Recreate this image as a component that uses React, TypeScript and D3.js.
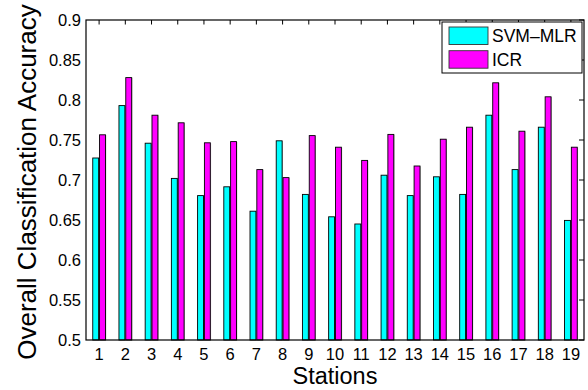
import React from "react";
import * as d3 from "d3";

const stations = [1, 2, 3, 4, 5, 6, 7, 8, 9, 10, 11, 12, 13, 14, 15, 16, 17, 18, 19];
const svmMlr = [0.7275, 0.793, 0.746, 0.702, 0.6805, 0.6915, 0.661, 0.749, 0.682, 0.654, 0.645, 0.706, 0.6805, 0.704, 0.682, 0.781, 0.713, 0.766, 0.6495];
const icr = [0.7565, 0.828, 0.781, 0.7715, 0.7465, 0.748, 0.713, 0.703, 0.7555, 0.741, 0.7245, 0.757, 0.7175, 0.751, 0.766, 0.8215, 0.761, 0.804, 0.741];
const yTicks = [0.5, 0.55, 0.6, 0.65, 0.7, 0.75, 0.8, 0.85, 0.9];
const seriesNames = ["SVM\u2013MLR", "ICR"];
const seriesColors = ["#00ffff", "#ff00ff"];

const W = 588;
const H = 390;
const M = { left: 86, right: 584, top: 20, bottom: 340 };
const FONT = "'Liberation Sans', Arial, Helvetica, sans-serif";

export default function App() {
  const x = d3.scaleLinear().domain([0.5, stations.length + 0.5]).range([M.left, M.right]);
  const y = d3.scaleLinear().domain([0.5, 0.9]).range([M.bottom, M.top]);
  const barW = 0.225;
  const offsets = [-0.13, 0.13];
  const series = [svmMlr, icr];

  return (
    <svg width={W} height={H} style={{ position: "absolute", left: 0, top: 0, background: "#fff" }} fontFamily={FONT}>
      <defs>
        <filter id="soft" x="-50%" y="-10%" width="200%" height="120%">
          <feGaussianBlur stdDeviation="0.6" />
        </filter>
      </defs>
      {/* bars */}
      {series.map((vals, si) =>
        vals.map((v, i) => {
          const cx = x(stations[i] + offsets[si]);
          const bw = x(barW) - x(0);
          const top = y(v);
          return (
            <g key={`${si}-${i}`}>
              <rect x={cx - bw / 2 + 0.8} y={top + 0.3} width={bw} height={M.bottom - top} fill="#888" opacity={0.6} filter="url(#soft)" />
              <rect x={cx - bw / 2} y={top} width={bw} height={M.bottom - top} fill={seriesColors[si]} stroke="#000" strokeWidth={0.9} />
            </g>
          );
        })
      )}
      {/* axes box */}
      <rect x={M.left} y={M.top} width={M.right - M.left} height={M.bottom - M.top} fill="none" stroke="#000" strokeWidth={1.2} />
      {/* top ticks */}
      {stations.map((s) => (
        <line key={`tt${s}`} x1={x(s)} x2={x(s)} y1={M.top} y2={M.top + 4.5} stroke="#000" strokeWidth={1} />
      ))}
      {/* right ticks */}
      {yTicks.map((t) => (
        <line key={`rt${t}`} x1={M.right - 5} x2={M.right} y1={y(t)} y2={y(t)} stroke="#000" strokeWidth={1} />
      ))}
      {/* y tick labels */}
      {yTicks.map((t) => (
        <text key={`yl${t}`} x={M.left - 5} y={y(t) + 6} fontSize={16.5} textAnchor="end" fill="#000">
          {String(t)}
        </text>
      ))}
      {/* x tick labels */}
      {stations.map((s) => (
        <text key={`xl${s}`} x={x(s)} y={360} fontSize={16.5} textAnchor="middle" fill="#000">
          {s}
        </text>
      ))}
      <text x={(M.left + M.right) / 2} y={384} fontSize={23.5} textAnchor="middle" fill="#000">
        Stations
      </text>
      <text transform="translate(36,182) rotate(-90)" fontSize={26} textAnchor="middle" fill="#000">
        Overall Classification Accuracy
      </text>
      {/* legend */}
      <g>
        <rect x={442} y={22} width={140} height={51} fill="#fff" stroke="#000" strokeWidth={1} />
        {seriesNames.map((n, i) => (
          <g key={n}>
            <rect x={449} y={27 + i * 23.7} width={39} height={17.5} fill={seriesColors[i]} stroke="#333" strokeWidth={0.9} />
            <text x={492} y={42 + i * 23.7} fontSize={17.5} fill="#000">
              {n}
            </text>
          </g>
        ))}
      </g>
    </svg>
  );
}
